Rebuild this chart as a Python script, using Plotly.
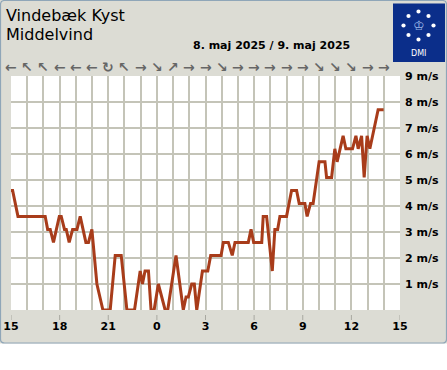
import plotly.graph_objects as go

# ---------------- data ----------------
station = "Vindebæk Kyst"
subtitle = "Middelvind"
date_text = "8. maj 2025 / 9. maj 2025"

# hours since 15:00 on 8 May, and mean wind (m/s)
hours = [0, 0.10, 0.43, 2.11, 2.26, 2.42, 2.62, 2.98, 3.10, 3.30, 3.41, 3.59, 3.80, 4.07,
         4.27, 4.62, 4.78, 4.99, 5.30, 5.67, 6.12, 6.43, 6.80, 7.15, 7.62, 7.97, 8.11,
         8.27, 8.48, 8.64, 8.83, 9.09, 9.51, 9.67, 10.18, 10.63, 10.80, 10.94, 11.15,
         11.31, 11.46, 11.81, 12.14, 12.32, 12.96, 13.10, 13.41, 13.65, 13.82, 14.64,
         14.81, 14.97, 15.47, 15.56, 15.77, 16.12, 16.28, 16.45, 16.59, 17.00, 17.31,
         17.62, 17.78, 18.13, 18.27, 18.48, 18.64, 19.01, 19.37, 19.47, 19.78, 19.98,
         20.12, 20.49, 20.66, 21.07, 21.28, 21.42, 21.63, 21.79, 21.97, 22.14, 22.65, 22.99]
wind = [4.6, 4.6, 3.6, 3.6, 3.1, 3.1, 2.6, 3.6, 3.6, 3.1, 3.1, 2.6, 3.1, 3.1,
        3.6, 2.6, 2.6, 3.1, 1.0, 0.0, 0.0, 2.1, 2.1, 0.0, 0.0, 1.5, 1.0,
        1.5, 1.5, 0.0, 0.0, 1.0, 0.0, 0.0, 2.1, 0.0, 0.5, 0.5, 1.0,
        1.0, 0.0, 1.5, 1.5, 2.1, 2.1, 2.6, 2.6, 2.1, 2.6, 2.6,
        3.1, 2.6, 2.6, 3.6, 3.6, 1.5, 3.1, 3.1, 3.6, 3.6, 4.6,
        4.6, 4.1, 4.1, 3.6, 4.1, 4.1, 5.7, 5.7, 5.1, 5.1, 6.2,
        5.7, 6.7, 6.2, 6.2, 6.7, 6.2, 6.7, 5.1, 6.7, 6.2, 7.7, 7.7]

# wind direction arrows, one per hour starting 15:00
arrow_hours = list(range(24))
arrows = ["←", "↖", "↖", "←", "←", "←", "↻", "↖", "→", "↘", "↗", "→",
          "→", "↘", "→", "→", "→", "→", "→", "↘", "↘", "↘", "→", "→"]

x_tick_vals = [0, 3, 6, 9, 12, 15, 18, 21, 24]
x_tick_text = ["15", "18", "21", "0", "3", "6", "9", "12", "15"]
y_tick_vals = [1, 2, 3, 4, 5, 6, 7, 8, 9]
y_tick_text = [f"{v} m/s" for v in y_tick_vals]

# ---------------- layout helpers ----------------
W_FIG, H_FIG = 447, 370
L, R, T, B = 11, 47, 76, 60
PW, PH = W_FIG - L - R, H_FIG - T - B

def px(x):
    return (x - L) / PW

def py(y):
    return (T + PH - y) / PH

PANEL = "#dcdcd4"
GRID = "#c4c4b8"
LINE = "#a83c1a"
BLUE = "#0b2e8a"
FONT = "DejaVu Sans"

fig = go.Figure()
fig.add_trace(go.Scatter(
    x=hours, y=wind, mode="lines",
    line=dict(color=LINE, width=3),
    hoverinfo="skip", showlegend=False,
))

shapes = []
shapes.append(dict(type="rect", xref="paper", yref="paper",
                   x0=px(-2), x1=px(W_FIG + 2), y0=py(343.5), y1=py(H_FIG + 2),
                   fillcolor="white", line=dict(width=0), layer="below"))
r = 4
x0, x1, y0, y1 = 0.5, 446.5, 0.5, 343
path = (f"M {px(x0 + r)},{py(y0)} L {px(x1 - r)},{py(y0)} "
        f"Q {px(x1)},{py(y0)} {px(x1)},{py(y0 + r)} "
        f"L {px(x1)},{py(y1 - r)} Q {px(x1)},{py(y1)} {px(x1 - r)},{py(y1)} "
        f"L {px(x0 + r)},{py(y1)} Q {px(x0)},{py(y1)} {px(x0)},{py(y1 - r)} "
        f"L {px(x0)},{py(y0 + r)} Q {px(x0)},{py(y0)} {px(x0 + r)},{py(y0)} Z")
shapes.append(dict(type="path", xref="paper", yref="paper", path=path,
                   line=dict(color="#8fa6b8", width=1.2), layer="above"))
for tv in x_tick_vals:
    shapes.append(dict(type="line", xref="x", yref="paper", x0=tv, x1=tv,
                       y0=py(315), y1=py(320), line=dict(color="#a8a8a0", width=1)))
shapes.append(dict(type="rect", xref="paper", yref="paper",
                   x0=px(393), x1=px(445), y0=py(62), y1=py(3.5),
                   fillcolor=BLUE, line=dict(width=0)))
cx, cy = 418.5, 25.5
dots = [(0, -14), (10, -9.5), (15, 0), (10, 9.5), (0, 14), (-10, 9.5), (-15, 0), (-10, -9.5)]
for dx, dy in dots:
    rr = 2.1
    shapes.append(dict(type="circle", xref="paper", yref="paper",
                       x0=px(cx + dx - rr), x1=px(cx + dx + rr),
                       y0=py(cy + dy + rr), y1=py(cy + dy - rr),
                       fillcolor="white", line=dict(width=0)))

annotations = []
annotations.append(dict(text=station, xref="paper", yref="paper", x=px(4), y=py(15),
                        xanchor="left", yanchor="middle", showarrow=False,
                        font=dict(family=FONT, size=16, color="black")))
annotations.append(dict(text=subtitle, xref="paper", yref="paper", x=px(4), y=py(35),
                        xanchor="left", yanchor="middle", showarrow=False,
                        font=dict(family=FONT, size=16, color="black")))
annotations.append(dict(text=f"<b>{date_text}</b>", xref="paper", yref="paper",
                        x=px(271), y=py(45.5), xanchor="center", yanchor="middle",
                        showarrow=False, font=dict(family=FONT, size=11, color="black")))
for h, a in zip(arrow_hours, arrows):
    annotations.append(dict(text=f"<b>{a}</b>", xref="x", yref="paper", x=h, y=py(67),
                            xanchor="center", yanchor="middle", showarrow=False,
                            font=dict(family=FONT, size=14, color="#666666")))
annotations.append(dict(text="♔", xref="paper", yref="paper", x=px(cx), y=py(cy),
                        xanchor="center", yanchor="middle", showarrow=False,
                        font=dict(family=FONT, size=13, color="#9db8e8")))
annotations.append(dict(text="DMI", xref="paper", yref="paper", x=px(418.5), y=py(53.5),
                        xanchor="center", yanchor="middle", showarrow=False,
                        font=dict(family=FONT, size=8, color="white")))

fig.update_layout(
    width=W_FIG, height=H_FIG,
    margin=dict(l=L, r=R, t=T, b=B, pad=0, autoexpand=False),
    paper_bgcolor=PANEL, plot_bgcolor="white",
    showlegend=False,
    shapes=shapes, annotations=annotations,
    xaxis=dict(range=[0, 24], tickmode="array", tickvals=x_tick_vals, ticktext=x_tick_text,
               showgrid=True, gridcolor=GRID, gridwidth=1.5,
               minor=dict(tickvals=list(range(25)), showgrid=True, gridcolor=GRID, gridwidth=1.5),
               zeroline=False, showline=False, ticks="", automargin=False,
               ticklabelstandoff=8,
               tickfont=dict(family=FONT, size=11, color="black", weight="bold"),
               fixedrange=True),
    yaxis=dict(range=[0, 9], side="right", tickmode="array", tickvals=y_tick_vals,
               ticktext=y_tick_text, showgrid=True, gridcolor=GRID, gridwidth=1.5,
               zeroline=False, showline=False, ticks="", ticklabelstandoff=4,
               automargin=False,
               tickfont=dict(family=FONT, size=11, color="black", weight="bold"),
               fixedrange=True),
)

fig.write_html("out.html", config={"displayModeBar": False},
               post_script="document.body.style.margin='0';")
